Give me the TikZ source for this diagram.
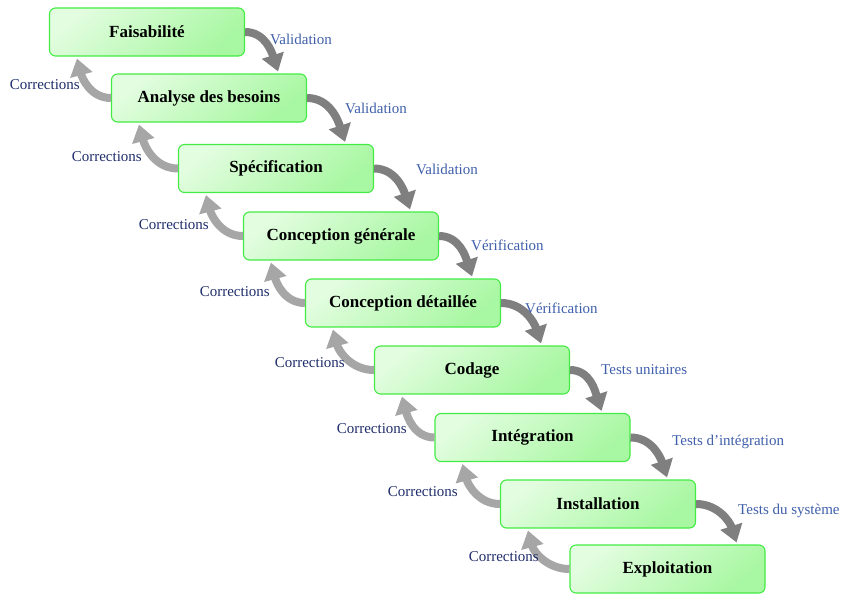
\documentclass[tikz,border=0pt]{standalone}
\usepackage{fontspec}
\setmainfont{Liberation Serif}
\usetikzlibrary{arrows.meta}
\definecolor{gtop}{HTML}{E2FDDF}
\definecolor{gbot}{HTML}{A8F7A2}
\definecolor{gborder}{HTML}{44EB44}
\definecolor{fwd}{HTML}{7F7F7F}
\definecolor{bwd}{HTML}{A6A6A6}
\definecolor{vlab}{HTML}{3F5FAA}
\definecolor{clab}{HTML}{1E2D6A}
\tikzset{
  phase/.style={draw=gborder, line width=1.1pt, rounded corners=6pt,
    top color=gtop, bottom color=gbot, shading angle=40,
    minimum width=195pt, minimum height=48pt, inner sep=0pt,
    font=\fontsize{17}{19}\selectfont\bfseries, text=black},
  fwdarrow/.style={draw=fwd, line width=8pt,
    -{Triangle[width=22pt,length=17pt]}},
  bwdarrow/.style={draw=bwd, line width=8pt,
    -{Triangle[width=22pt,length=17pt]}},
  vlabel/.style={anchor=west, text=vlab, font=\fontsize{15}{16}\selectfont, inner sep=0pt},
  clabel/.style={anchor=east, text=clab, font=\fontsize{15}{16}\selectfont, inner sep=0pt}
}
\begin{document}
\begin{tikzpicture}[x=1pt,y=1pt]
\useasboundingbox (0,0) rectangle (842,-594);
\node[phase] (b1) at (147,-32) {Faisabilité};
\node[phase] (b2) at (209,-98) {Analyse des besoins};
\node[phase] (b3) at (276,-168.5) {Spécification};
\node[phase] (b4) at (341,-236) {Conception générale};
\node[phase] (b5) at (403,-303) {Conception détaillée};
\node[phase] (b6) at (472,-370) {Codage};
\node[phase] (b7) at (532.5,-437.5) {Intégration};
\node[phase] (b8) at (598,-504) {Installation};
\node[phase] (b9) at (667.5,-569) {Exploitation};

\foreach \a/\b in {b1/b2,b2/b3,b3/b4,b4/b5,b5/b6,b6/b7,b7/b8,b8/b9}{
  \draw[fwdarrow] (\a.east) to[out=0,in=108] ([xshift=-29pt,yshift=2pt]\b.north east);
  \draw[bwdarrow] (\b.west) to[out=180,in=-75] ([xshift=28pt,yshift=-2pt]\a.south west);
}

\node[vlabel] (v1) at (270,-39) {Validation};
\node[vlabel] (v2) at (345,-108) {Validation};
\node[vlabel] (v3) at (416,-169) {Validation};
\node[vlabel] (v4) at (471,-245) {Vérification};
\node[vlabel] (v5) at (525,-308) {Vérification};
\node[vlabel] (v6) at (601,-370) {Tests unitaires};
\node[vlabel] (v7) at (672,-442) {Tests d’intégration};
\node[vlabel] (v8) at (738,-511) {Tests du système};

\node[clabel] (c1) at (80,-85) {Corrections};
\node[clabel] (c2) at (142,-157) {Corrections};
\node[clabel] (c3) at (209,-225) {Corrections};
\node[clabel] (c4) at (270,-292) {Corrections};
\node[clabel] (c5) at (345,-363) {Corrections};
\node[clabel] (c6) at (407,-429) {Corrections};
\node[clabel] (c7) at (458,-492) {Corrections};
\node[clabel] (c8) at (539,-557) {Corrections};
\end{tikzpicture}
\end{document}
